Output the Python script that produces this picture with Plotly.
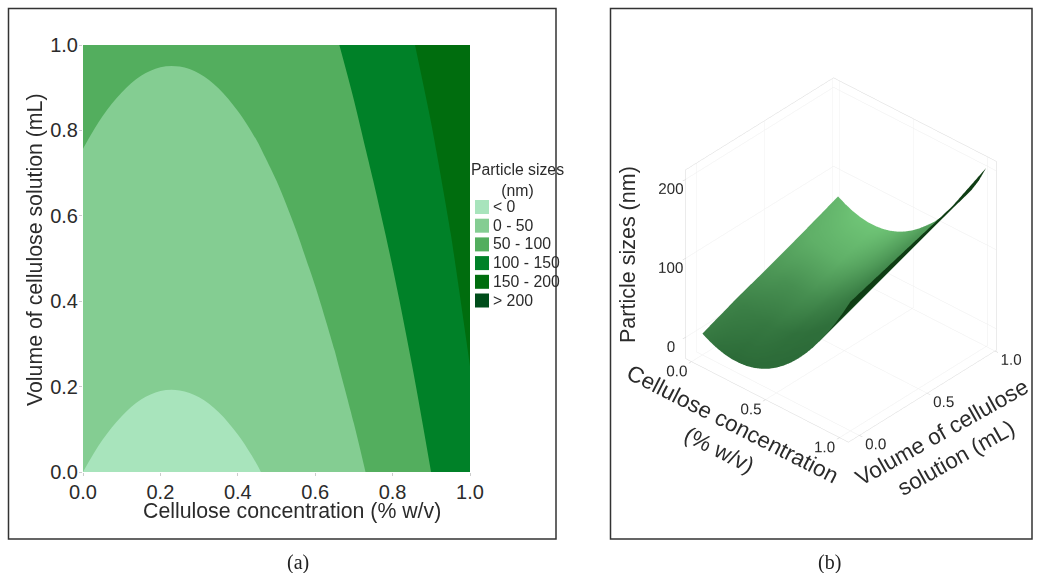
import plotly.graph_objects as go

concentration = [0.0, 0.05, 0.10, 0.15, 0.20, 0.25, 0.30, 0.35, 0.40, 0.45, 0.50,
                 0.55, 0.60, 0.65, 0.70, 0.75, 0.80, 0.85, 0.90, 0.95, 1.0]
volume = [0.0, 0.25, 0.5, 0.75, 1.0]
size_v000 = [0.0, -5.2, -9.1, -11.8, -13.2, -13.3, -12.2, -9.8, -6.1, -1.2, 5.0, 12.5, 21.2, 31.2, 42.5, 55.0, 68.8, 83.9, 100.2, 117.8, 136.6]
size_v025 = [17.4, 12.2, 8.3, 5.6, 4.2, 4.1, 5.2, 7.6, 11.3, 16.2, 22.4, 29.5, 37.9, 47.7, 59.0, 71.5, 85.0, 99.9, 115.4, 132.2, 150.1]
size_v050 = [33.0, 27.8, 23.9, 21.2, 19.8, 19.7, 20.8, 23.2, 26.9, 31.8, 38.0, 45.5, 54.2, 64.2, 75.5, 88.0, 101.3, 115.9, 130.7, 146.6, 163.6]
size_v075 = [49.5, 44.3, 40.4, 37.7, 36.3, 36.2, 37.3, 39.7, 43.4, 48.3, 54.5, 62.0, 70.7, 80.7, 92.0, 104.5, 117.5, 131.9, 146.0, 160.9, 177.1]
size_v100 = [66.8, 61.6, 57.7, 55.0, 53.6, 53.5, 54.6, 57.0, 60.7, 65.6, 71.8, 79.3, 88.0, 97.2, 108.5, 121.0, 133.8, 147.9, 161.2, 178.0, 199.0]
sizes = [size_v000, size_v025, size_v050, size_v075, size_v100]

# brightness of the surface as it appears in the picture, 0 = darkest, 1 = lightest
shade_v000 = [.42, .38, .34, .32, .30, .30, .30, .30, .30, .30, .30, .30, .30, .30, .30, .30, .26, .12, 0, 0, 0]
shade_v025 = [.50, .46, .44, .42, .40, .40, .38, .36, .34, .34, .33, .33, .33, .34, .36, .36, .30, .12, 0, 0, 0]
shade_v050 = [.66, .64, .60, .58, .58, .58, .56, .54, .50, .48, .46, .44, .44, .44, .46, .46, .34, .12, 0, 0, 0]
shade_v075 = [.82, .84, .84, .84, .84, .84, .80, .76, .72, .68, .64, .60, .58, .58, .60, .60, .40, .14, 0, 0, 0]
shade_v100 = [.90, .94, .98, 1.0, 1.0, 1.0, .98, .94, .90, .84, .80, .76, .72, .72, .70, .66, .45, .15, 0, 0, 0]
shades = [shade_v000, shade_v025, shade_v050, shade_v075, shade_v100]

legend_title = "Particle sizes<br>(nm)"
legend_labels = ["< 0", "0 - 50", "50 - 100", "100 - 150", "150 - 200", "> 200"]
band_colors = ["#a8e4bc", "#84cd92", "#53ae5e", "#008128", "#006d0e", "#004d1a"]

W, H = 1040, 573
def px(x): return x / W
def py(y): return 1 - y / H

TEXT = "#2b2b2b"
FONT = "Liberation Sans, Arial, sans-serif"

scale = []
n = len(band_colors)
for i, c in enumerate(band_colors):
    scale += [[i / n, c], [(i + 1) / n, c]]

fig = go.Figure()
fig.add_trace(go.Contour(
    x=concentration, y=volume, z=sizes,
    autocontour=False,
    contours=dict(start=0, end=200, size=50, coloring="fill"),
    line=dict(width=0, smoothing=1),
    colorscale=scale, zmin=-50, zmax=250, showscale=False,
))
fig.add_trace(go.Surface(
    x=concentration, y=volume, z=sizes, surfacecolor=shades, showscale=False,
    colorscale=[[0, "#0f3d14"], [0.3, "#2c6b38"], [1, "#6fc476"]],
    cmin=0, cmax=1,
    lighting=dict(ambient=1.0, diffuse=0.0, specular=0.0, roughness=0.6, fresnel=0.0),
    scene="scene",
))

shapes = [
    dict(type="rect", xref="paper", yref="paper", x0=px(8.5), x1=px(556), y0=py(8.5), y1=py(539),
         line=dict(color="#333333", width=1.5), layer="below"),
    dict(type="rect", xref="paper", yref="paper", x0=px(610.5), x1=px(1032), y0=py(8.5), y1=py(539),
         line=dict(color="#333333", width=1.5), layer="below"),
]
annotations = [
    dict(text="(a)", x=px(298), y=py(562), font=dict(family="Liberation Serif, serif", size=20, color="#222")),
    dict(text="(b)", x=px(829), y=py(562), font=dict(family="Liberation Serif, serif", size=20, color="#222")),
    dict(text=legend_title, x=px(517), y=py(180), font=dict(family=FONT, size=15.8, color=TEXT), align="center"),
    dict(text="Cellulose concentration (% w/v)", x=px(292), y=py(511), font=dict(family=FONT, size=21.3, color=TEXT)),
    dict(text="Volume of cellulose solution (mL)", x=px(35), y=py(250), textangle=-90,
         font=dict(family=FONT, size=21.3, color=TEXT)),
    dict(text="Cellulose concentration<br>(% w/v)", x=px(726), y=py(437), textangle=27,
         font=dict(family=FONT, size=22.5, color=TEXT), align="center"),
    dict(text="Volume of cellulose<br>solution (mL)", x=px(949), y=py(445), textangle=-29.3,
         font=dict(family=FONT, size=22.5, color=TEXT), align="center"),
    dict(text="Particle sizes (nm)", x=px(628), y=py(255), textangle=-90,
         font=dict(family=FONT, size=21.5, color=TEXT)),
]
for i, (lab, col) in enumerate(zip(legend_labels, band_colors)):
    yc = 207 + i * 18.7
    shapes.append(dict(type="rect", xref="paper", yref="paper", x0=px(475), x1=px(489),
                       y0=py(yc - 7), y1=py(yc + 7), fillcolor=col, line=dict(width=0)))
    annotations.append(dict(text=lab, x=px(491), y=py(yc - 0.5), xanchor="left",
                            font=dict(family=FONT, size=15.8, color=TEXT)))
for a in annotations:
    a.update(xref="paper", yref="paper", showarrow=False)
    a.setdefault("xanchor", "center")
    a.setdefault("yanchor", "middle")

axis3d = dict(showbackground=False, showgrid=True, gridcolor="#eeeeee", gridwidth=1,
              showline=True, linecolor="#d8d8d8", linewidth=1, zeroline=False, mirror=True,
              ticks="outside", ticklen=4, tickcolor="#cccccc", tickangle=0,
              tickfont=dict(family=FONT, size=13.5, color=TEXT), showspikes=False, title=dict(text=""))

fig.update_layout(
    width=W, height=H, margin=dict(l=0, r=0, t=0, b=0),
    paper_bgcolor="white", plot_bgcolor="white", showlegend=False,
    font=dict(family=FONT, color=TEXT),
    shapes=shapes, annotations=annotations,
    xaxis=dict(domain=[px(83), px(470)], range=[0, 1], tickvals=[0, 0.2, 0.4, 0.6, 0.8, 1.0],
               ticktext=["0.0", "0.2", "0.4", "0.6", "0.8", "1.0"], automargin=False,
               ticks="outside", ticklen=3, tickcolor="#cccccc", showgrid=False, zeroline=False,
               ticklabelstandoff=-1,
               tickfont=dict(size=20, color=TEXT)),
    yaxis=dict(domain=[py(472), py(45)], range=[0, 1], tickvals=[0, 0.2, 0.4, 0.6, 0.8, 1.0],
               ticktext=["0.0", "0.2", "0.4", "0.6", "0.8", "1.0"], automargin=False,
               ticks="outside", ticklen=3, tickcolor="#cccccc", showgrid=False, zeroline=False,
               ticklabelstandoff=-3,
               tickfont=dict(size=20, color=TEXT)),
    scene=dict(
        domain=dict(x=[px(642), px(1040)], y=[py(480), py(40)]),
        aspectmode="manual", aspectratio=dict(x=1, y=1, z=1.04),
        camera=dict(eye=dict(x=1.09, y=-1.20, z=1.11), up=dict(x=0, y=0, z=1),
                    center=dict(x=0, y=0, z=0), projection=dict(type="orthographic")),
        xaxis=dict(axis3d, range=[-0.04, 1.06], tickvals=[0, 0.5, 1], ticktext=["0.0", "0.5", "1.0"]),
        yaxis=dict(axis3d, range=[-0.08, 1.01], tickvals=[0, 0.5, 1], ticktext=["0.0", "0.5", "1.0"]),
        zaxis=dict(axis3d, range=[-27, 212], tickvals=[0, 100, 200]),
    ),
)
fig.write_html("out.html", post_script="document.body.style.margin='0';", config=dict(displayModeBar=False))
